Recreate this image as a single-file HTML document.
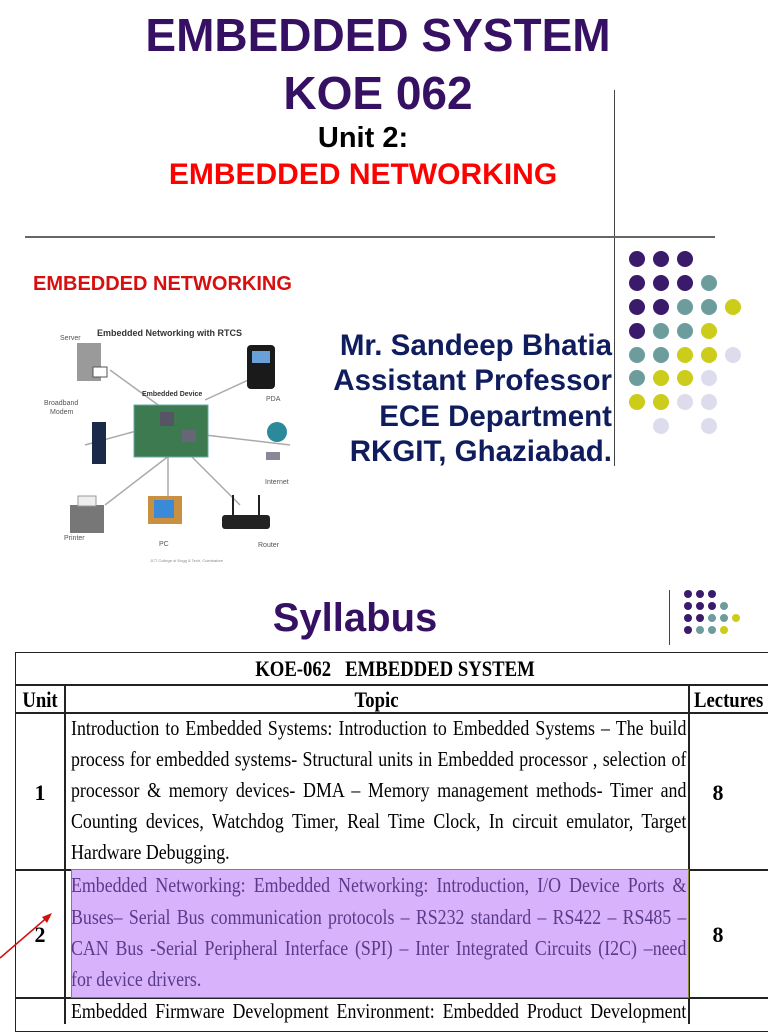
<!DOCTYPE html>
<html><head><meta charset="utf-8"><style>
*{margin:0;padding:0;box-sizing:border-box}
body{width:768px;height:1024px;background:#fff;position:relative;overflow:hidden;font-family:"Liberation Sans",sans-serif}
.a{position:absolute;white-space:nowrap}
.t{font-weight:bold;color:#351063;text-align:center;left:0;width:756px}
.au{right:156px;font-weight:bold;color:#0f1d5e;font-size:29.5px;text-align:right}
.ln{position:absolute;left:71px;width:724px;font-family:"Liberation Serif",serif;font-size:21px;transform:scaleX(0.85);transform-origin:0 0;text-align:justify;text-align-last:justify;line-height:24px;height:24px;overflow:hidden}
.c{position:absolute;font-family:"Liberation Serif",serif;font-weight:bold;font-size:22px;text-align:center}
.h{transform:scaleX(0.85)}
</style></head><body>
<div class="a t" style="top:8px;font-size:46px">EMBEDDED SYSTEM</div>
<div class="a t" style="top:66px;font-size:46px">KOE 062</div>
<div class="a" style="top:122px;left:0;width:726px;text-align:center;font-weight:bold;font-size:29px;color:#000">Unit 2:</div>
<div class="a" style="top:158px;left:0;width:726px;text-align:center;font-weight:bold;font-size:30px;color:#f00">EMBEDDED NETWORKING</div>
<div class="a" style="left:614px;top:90px;width:1px;height:376px;background:#444"></div>
<div class="a" style="left:25px;top:236px;width:690px;height:2px;background:#666"></div>

<div class="a" style="left:33px;top:273px;font-weight:bold;font-size:20px;color:#d61010">EMBEDDED NETWORKING</div>
<svg class="a" style="left:30px;top:320px" width="290" height="250" viewBox="30 320 290 250">
<g stroke="#aaa" stroke-width="1.5">
<line x1="110" y1="370" x2="165" y2="410"/><line x1="85" y1="445" x2="140" y2="430"/>
<line x1="170" y1="455" x2="105" y2="505"/><line x1="168" y1="455" x2="168" y2="500"/>
<line x1="190" y1="455" x2="240" y2="505"/><line x1="205" y1="435" x2="290" y2="445"/><line x1="205" y1="400" x2="270" y2="370"/>
</g>
<text x="97" y="336" font-size="9" font-weight="bold" fill="#333" font-family="Liberation Sans">Embedded Networking with RTCS</text>
<text x="60" y="340" font-size="7" fill="#555" font-family="Liberation Sans">Server</text>
<rect x="77" y="343" width="24" height="38" fill="#9a9a9a"/><rect x="93" y="367" width="14" height="10" fill="#fff" stroke="#555"/>
<text x="142" y="396" font-size="7" font-weight="bold" fill="#333" font-family="Liberation Sans">Embedded Device</text>
<rect x="134" y="405" width="74" height="52" fill="#3e7a50" stroke="#6aa"/>
<rect x="160" y="412" width="14" height="14" fill="#556"/><rect x="182" y="430" width="14" height="12" fill="#667"/>
<text x="44" y="405" font-size="7" fill="#555" font-family="Liberation Sans">Broadband</text><text x="50" y="414" font-size="7" fill="#555" font-family="Liberation Sans">Modem</text>
<rect x="92" y="422" width="14" height="42" fill="#1c2a4a"/>
<rect x="247" y="345" width="28" height="44" rx="4" fill="#1a1a1a"/><rect x="252" y="351" width="18" height="12" fill="#6aa0d8"/>
<text x="266" y="401" font-size="7" fill="#555" font-family="Liberation Sans">PDA</text>
<circle cx="277" cy="432" r="10" fill="#2a8a9a"/><rect x="266" y="452" width="14" height="8" fill="#889"/>
<text x="265" y="484" font-size="7" fill="#555" font-family="Liberation Sans">Internet</text>
<rect x="70" y="505" width="34" height="28" fill="#777"/><rect x="78" y="496" width="18" height="10" fill="#eee" stroke="#999"/>
<text x="64" y="540" font-size="7" fill="#555" font-family="Liberation Sans">Printer</text>
<rect x="148" y="496" width="34" height="28" fill="#c89040"/><rect x="154" y="500" width="20" height="18" fill="#3a8ad8"/>
<text x="159" y="546" font-size="7" fill="#555" font-family="Liberation Sans">PC</text>
<rect x="222" y="515" width="48" height="14" rx="3" fill="#222"/><line x1="233" y1="515" x2="233" y2="495" stroke="#222" stroke-width="2"/><line x1="259" y1="515" x2="259" y2="495" stroke="#222" stroke-width="2"/>
<text x="258" y="547" font-size="7" fill="#555" font-family="Liberation Sans">Router</text>
<text x="150" y="562" font-size="4" fill="#888" font-family="Liberation Sans">JCT College of Engg &amp; Tech, Coimbatore</text>
</svg>

<div class="a au" style="top:329px">Mr. Sandeep Bhatia</div>
<div class="a au" style="top:364px">Assistant Professor</div>
<div class="a au" style="top:400px">ECE Department</div>
<div class="a au" style="top:435px">RKGIT, Ghaziabad.</div>

<svg class="a" style="left:620px;top:245px" width="140" height="195">
<circle cx="17" cy="14" r="8" fill="#3a1a6a"/><circle cx="41" cy="14" r="8" fill="#3a1a6a"/><circle cx="65" cy="14" r="8" fill="#3a1a6a"/>
<circle cx="17" cy="38" r="8" fill="#3a1a6a"/><circle cx="41" cy="38" r="8" fill="#3a1a6a"/><circle cx="65" cy="38" r="8" fill="#3a1a6a"/><circle cx="89" cy="38" r="8" fill="#6c9d9c"/>
<circle cx="17" cy="62" r="8" fill="#3a1a6a"/><circle cx="41" cy="62" r="8" fill="#3a1a6a"/><circle cx="65" cy="62" r="8" fill="#6c9d9c"/><circle cx="89" cy="62" r="8" fill="#6c9d9c"/><circle cx="113" cy="62" r="8" fill="#cccc1a"/>
<circle cx="17" cy="86" r="8" fill="#3a1a6a"/><circle cx="41" cy="86" r="8" fill="#6c9d9c"/><circle cx="65" cy="86" r="8" fill="#6c9d9c"/><circle cx="89" cy="86" r="8" fill="#cccc1a"/>
<circle cx="17" cy="110" r="8" fill="#6c9d9c"/><circle cx="41" cy="110" r="8" fill="#6c9d9c"/><circle cx="65" cy="110" r="8" fill="#cccc1a"/><circle cx="89" cy="110" r="8" fill="#cccc1a"/><circle cx="113" cy="110" r="8" fill="#dcdcec"/>
<circle cx="17" cy="133" r="8" fill="#6c9d9c"/><circle cx="41" cy="133" r="8" fill="#cccc1a"/><circle cx="65" cy="133" r="8" fill="#cccc1a"/><circle cx="89" cy="133" r="8" fill="#dcdcec"/>
<circle cx="17" cy="157" r="8" fill="#cccc1a"/><circle cx="41" cy="157" r="8" fill="#cccc1a"/><circle cx="65" cy="157" r="8" fill="#dcdcec"/><circle cx="89" cy="157" r="8" fill="#dcdcec"/>
<circle cx="41" cy="181" r="8" fill="#dcdcec"/><circle cx="89" cy="181" r="8" fill="#dcdcec"/>
</svg>

<div class="a t" style="top:596px;left:0;width:710px;font-size:40px">Syllabus</div>
<div class="a" style="left:669px;top:590px;width:1px;height:55px;background:#444"></div>
<svg class="a" style="left:680px;top:588px" width="70" height="55">
<circle cx="8" cy="6" r="4" fill="#3a1a6a"/><circle cx="20" cy="6" r="4" fill="#3a1a6a"/><circle cx="32" cy="6" r="4" fill="#3a1a6a"/>
<circle cx="8" cy="18" r="4" fill="#3a1a6a"/><circle cx="20" cy="18" r="4" fill="#3a1a6a"/><circle cx="32" cy="18" r="4" fill="#3a1a6a"/><circle cx="44" cy="18" r="4" fill="#6c9d9c"/>
<circle cx="8" cy="30" r="4" fill="#3a1a6a"/><circle cx="20" cy="30" r="4" fill="#3a1a6a"/><circle cx="32" cy="30" r="4" fill="#6c9d9c"/><circle cx="44" cy="30" r="4" fill="#6c9d9c"/><circle cx="56" cy="30" r="4" fill="#cccc1a"/>
<circle cx="8" cy="42" r="4" fill="#3a1a6a"/><circle cx="20" cy="42" r="4" fill="#6c9d9c"/><circle cx="32" cy="42" r="4" fill="#6c9d9c"/><circle cx="44" cy="42" r="4" fill="#cccc1a"/>
</svg>

<div class="a" style="left:15px;top:652px;width:760px;height:380px;border:1.5px solid #222"></div>
<div class="a" style="left:15px;top:684px;width:760px;height:1.5px;background:#222"></div>
<div class="a" style="left:15px;top:712px;width:760px;height:1.5px;background:#222"></div>
<div class="a" style="left:15px;top:869px;width:760px;height:1.5px;background:#222"></div>
<div class="a" style="left:15px;top:997px;width:760px;height:1.5px;background:#222"></div>
<div class="a" style="left:64px;top:684px;width:1.5px;height:340px;background:#222"></div>
<div class="a" style="left:688px;top:684px;width:1.5px;height:340px;background:#222"></div>
<div class="a" style="left:71px;top:869px;width:618px;height:129px;background:#d8b3fc;border:1.5px solid #8a8a2a"></div>

<div class="c h" style="left:15px;width:760px;top:656px">KOE-062&nbsp;&nbsp; EMBEDDED SYSTEM</div>
<div class="c h" style="left:15px;width:50px;top:687px">Unit</div>
<div class="c h" style="left:65px;width:623px;top:687px">Topic</div>
<div class="c h" style="left:688px;width:80px;top:687px">Lectures</div>

<div class="ln" style="top:716px">Introduction to Embedded Systems: Introduction to Embedded Systems – The build</div>
<div class="ln" style="top:747px">process for embedded systems- Structural units in Embedded processor , selection of</div>
<div class="ln" style="top:778px">processor &amp; memory devices- DMA – Memory management methods- Timer and</div>
<div class="ln" style="top:809px">Counting devices, Watchdog Timer, Real Time Clock, In circuit emulator, Target</div>
<div class="ln" style="top:840px;text-align-last:left">Hardware Debugging.</div>
<div class="c" style="left:15px;width:50px;top:780px">1</div>
<div class="c" style="left:688px;width:60px;top:780px">8</div>

<div class="ln" style="top:873px;color:#5a3a8a">Embedded Networking: Embedded Networking: Introduction, I/O Device Ports &amp;</div>
<div class="ln" style="top:905px;color:#5a3a8a">Buses– Serial Bus communication protocols – RS232 standard – RS422 – RS485 –</div>
<div class="ln" style="top:936px;color:#5a3a8a">CAN Bus -Serial Peripheral Interface (SPI) – Inter Integrated Circuits (I2C) –need</div>
<div class="ln" style="top:967px;color:#5a3a8a;text-align-last:left">for device drivers.</div>
<div class="c" style="left:15px;width:50px;top:922px">2</div>
<div class="c" style="left:688px;width:60px;top:922px">8</div>
<div class="ln" style="top:999px">Embedded Firmware Development Environment: Embedded Product Development</div>
<svg class="a" style="left:0;top:905px" width="60" height="60"><line x1="0" y1="53" x2="50" y2="10" stroke="#d01010" stroke-width="1.5"/><polygon points="52,8 42,12 47,18" fill="#d01010"/></svg>
</body></html>
